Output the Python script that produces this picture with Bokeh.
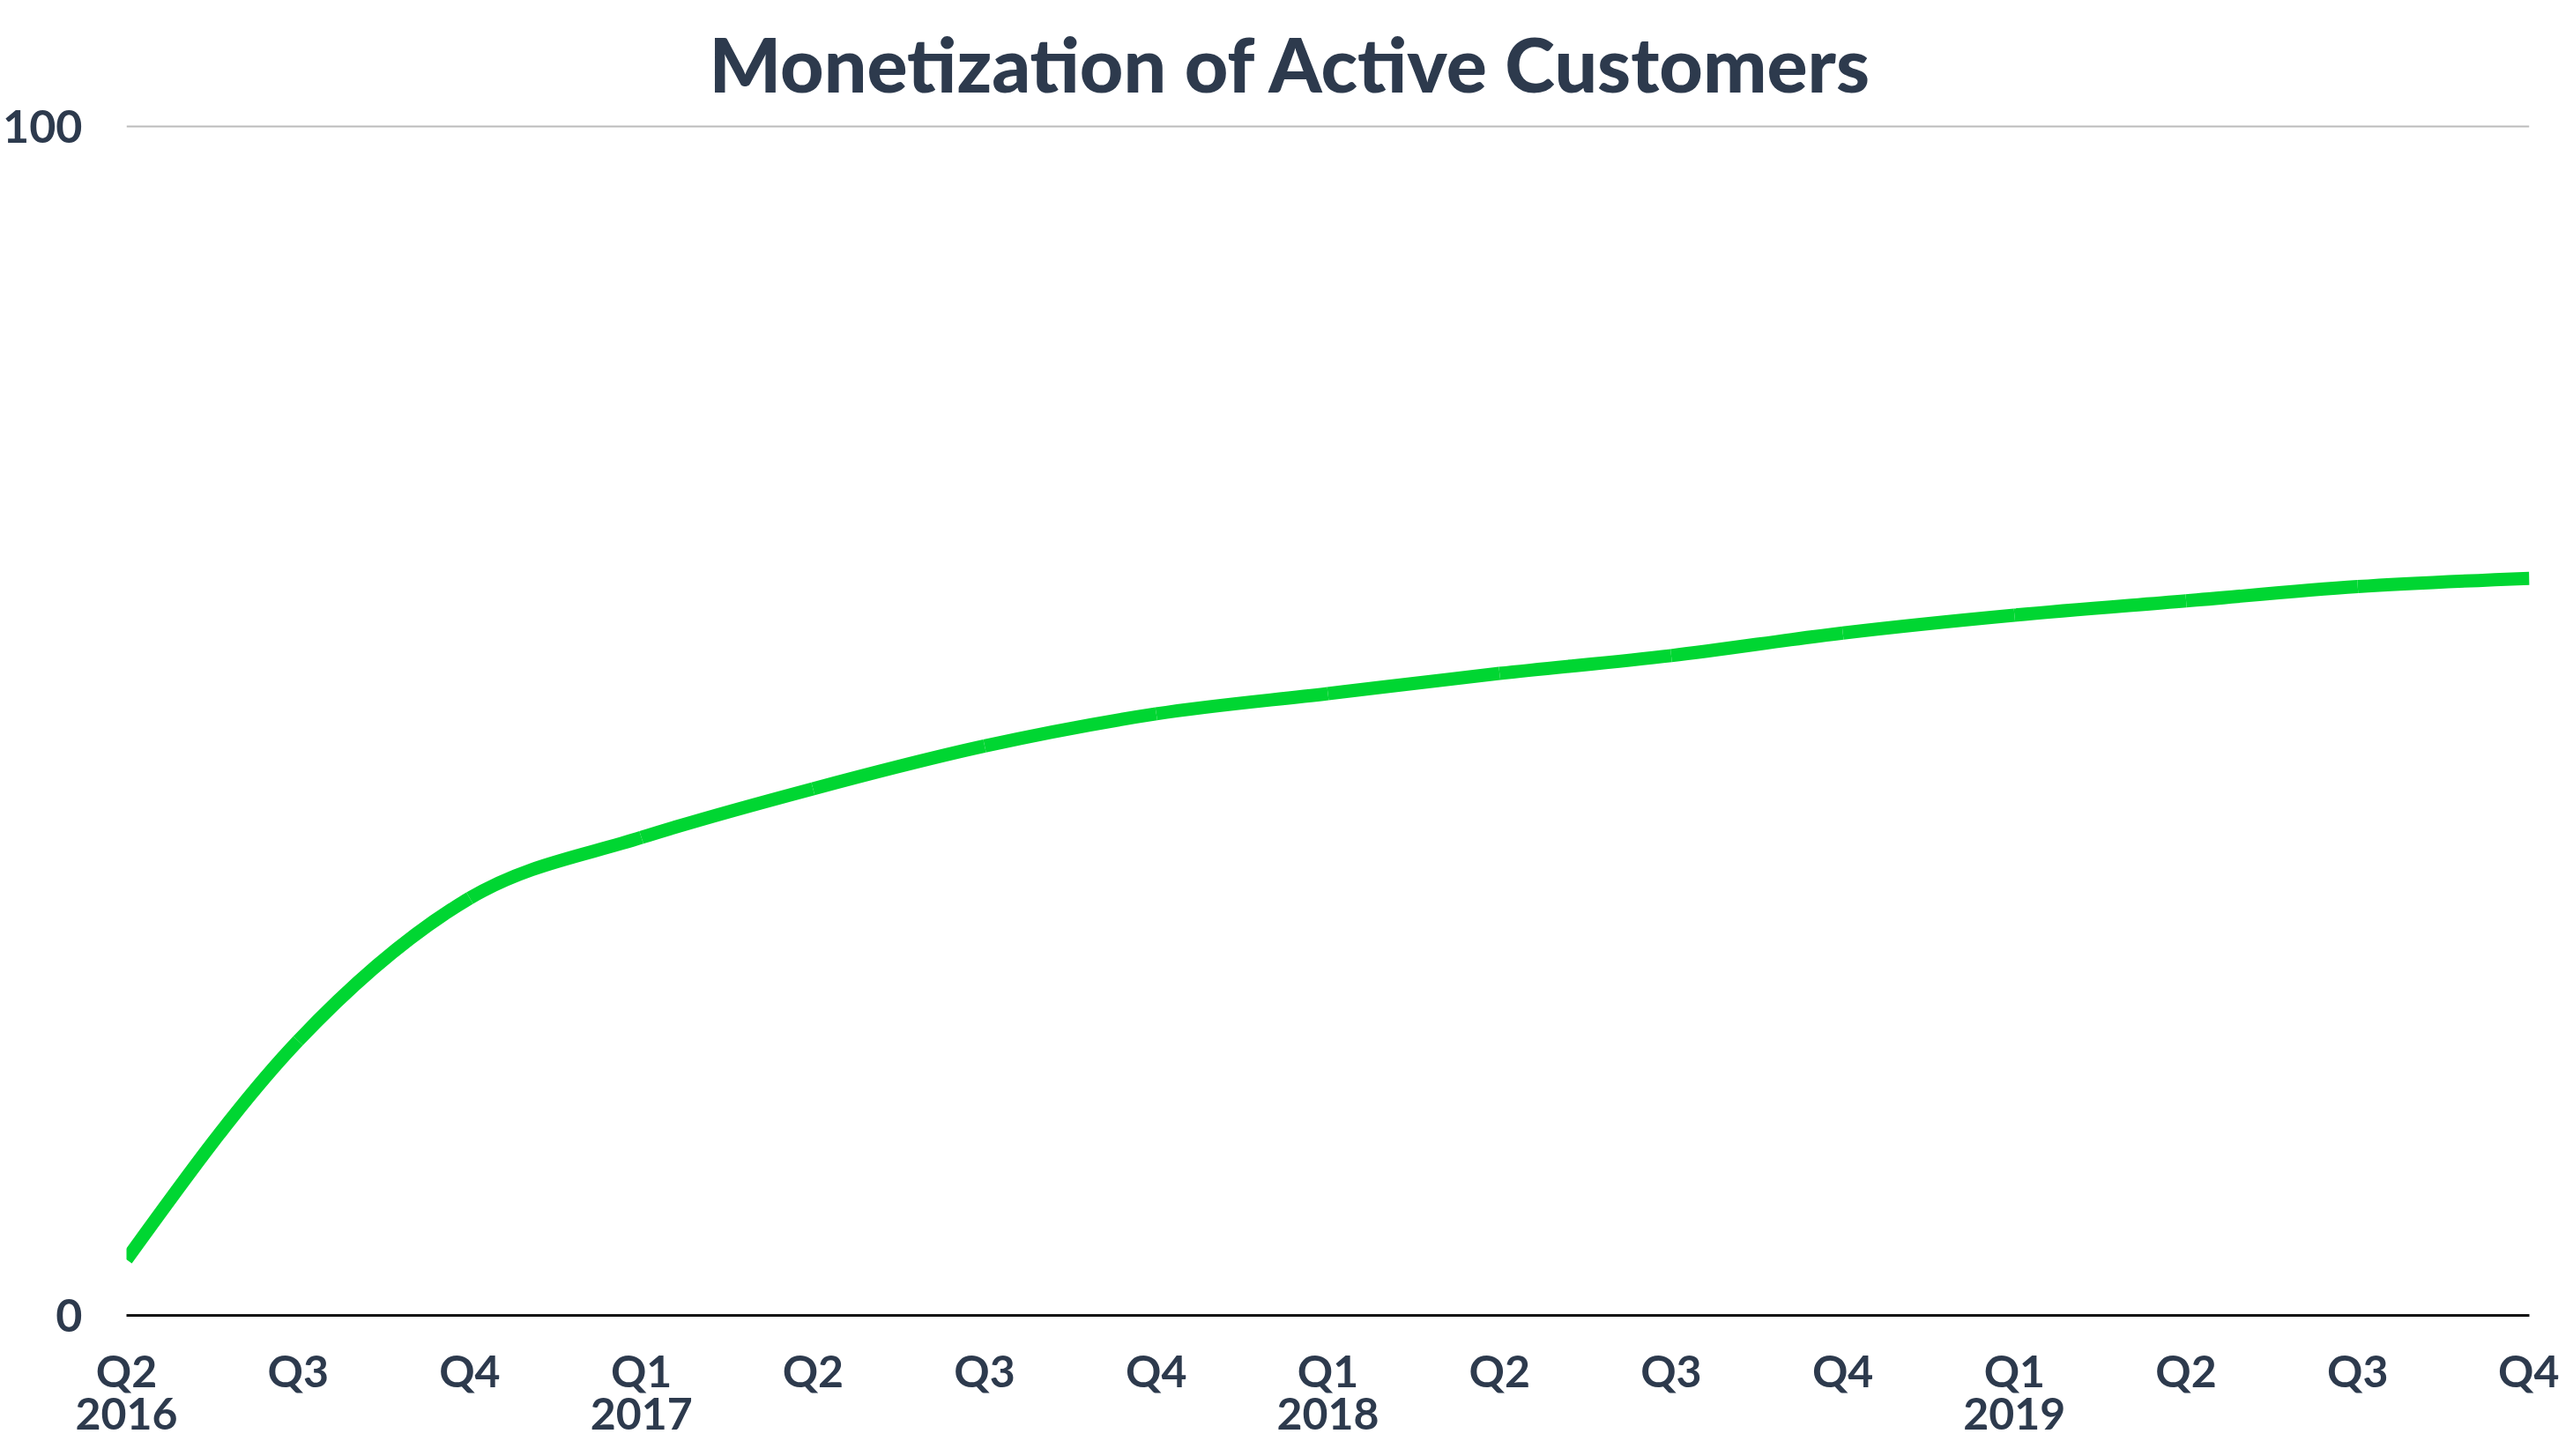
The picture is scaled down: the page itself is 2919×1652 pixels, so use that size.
import numpy as np
from bokeh.plotting import figure
from bokeh.models import Range1d, FixedTicker, LinearAxis, ColumnDataSource
from bokeh.embed import file_html
from bokeh.resources import INLINE

# ---- data ----
quarter_labels = ["Q2", "Q3", "Q4", "Q1", "Q2", "Q3", "Q4", "Q1",
                  "Q2", "Q3", "Q4", "Q1", "Q2", "Q3", "Q4"]
year_labels = ["2016", "", "", "2017", "", "", "", "2018",
               "", "", "", "2019", "", "", ""]
monetization = [4.7, 23.1, 35.1, 40.2, 44.3, 47.9, 50.6, 52.3,
                54.0, 55.5, 57.4, 58.9, 60.1, 61.3, 62.0]
y_ticks = [0, 100]
title_text = "Monetization of Active Customers"

TEXT = "#2d3a4d"
GREEN = "#00d632"
FONT = "Lato"

x = np.arange(len(monetization), dtype=float)
y = np.array(monetization, dtype=float)

# monotone cubic (d3 curveMonotoneX style) tangents for a smooth rendering
n = len(x)
h = np.diff(x)
s = np.diff(y) / h
t = np.zeros(n)
for i in range(1, n - 1):
    h0, h1, s0, s1 = h[i - 1], h[i], s[i - 1], s[i]
    pp = (s0 * h1 + s1 * h0) / (h0 + h1)
    t[i] = (np.sign(s0) + np.sign(s1)) * min(abs(s0), abs(s1), 0.5 * abs(pp))
t[0] = (3 * s[0] - t[1]) / 2
t[-1] = (3 * s[-1] - t[-2]) / 2
d = h / 3.0
src = ColumnDataSource(dict(
    x0=x[:-1], y0=y[:-1], x1=x[1:], y1=y[1:],
    cx0=x[:-1] + d, cy0=y[:-1] + d * t[:-1],
    cx1=x[1:] - d, cy1=y[1:] - d * t[1:],
))

p = figure(width=2903, height=1636,
           x_range=Range1d(0, len(monetization) - 1),
           y_range=Range1d(0, 100.3),
           output_backend="svg", toolbar_location=None,
           min_border_left=0, min_border_right=34,
           min_border_top=0, min_border_bottom=144)
p.outline_line_color = None
p.background_fill_color = "white"
p.border_fill_color = "white"

p.title.text = title_text
p.title.align = "left"
p.title.offset = 661
p.title.text_font = "Lato Black, Lato"
p.title.text_font_style = "bold"
p.title.text_font_size = "86px"
p.title.text_color = TEXT
p.title.standoff = 34

p.xgrid.grid_line_color = None
p.ygrid.ticker = FixedTicker(ticks=[100])
p.ygrid.grid_line_color = "#bbbbbb"
p.ygrid.grid_line_width = 2

# y axis
p.yaxis.ticker = FixedTicker(ticks=y_ticks)
p.yaxis.axis_line_color = None
p.yaxis.major_tick_line_color = None
p.yaxis.minor_tick_line_color = None
p.yaxis.major_label_text_font = FONT
p.yaxis.major_label_text_font_style = "bold"
p.yaxis.major_label_text_font_size = "52px"
p.yaxis.major_label_text_color = TEXT
p.yaxis.major_label_standoff = 44

# x axis: quarters
xa = p.xaxis[0]
xa.ticker = FixedTicker(ticks=list(range(len(quarter_labels))))
xa.major_label_overrides = {i: q for i, q in enumerate(quarter_labels)}
xa.axis_line_color = "#111111"
xa.axis_line_width = 3
xa.major_tick_line_color = None
xa.minor_tick_line_color = None
xa.major_label_text_font = FONT
xa.major_label_text_font_style = "bold"
xa.major_label_text_font_size = "50px"
xa.major_label_text_color = TEXT
xa.major_label_standoff = 26

# x axis: years
year_ticks = [i for i, yl in enumerate(year_labels) if yl]
ya = LinearAxis(ticker=FixedTicker(ticks=year_ticks),
                major_label_overrides={i: year_labels[i] for i in year_ticks})
ya.axis_line_color = None
ya.major_tick_line_color = None
ya.minor_tick_line_color = None
ya.major_label_text_font = FONT
ya.major_label_text_font_style = "bold"
ya.major_label_text_font_size = "50px"
ya.major_label_text_color = TEXT
ya.major_label_standoff = -8
p.add_layout(ya, "below")

p.bezier(x0="x0", y0="y0", x1="x1", y1="y1",
         cx0="cx0", cy0="cy0", cx1="cx1", cy1="cy1",
         source=src, line_color=GREEN, line_width=15)

open("out.html", "w").write(file_html(p, INLINE))
